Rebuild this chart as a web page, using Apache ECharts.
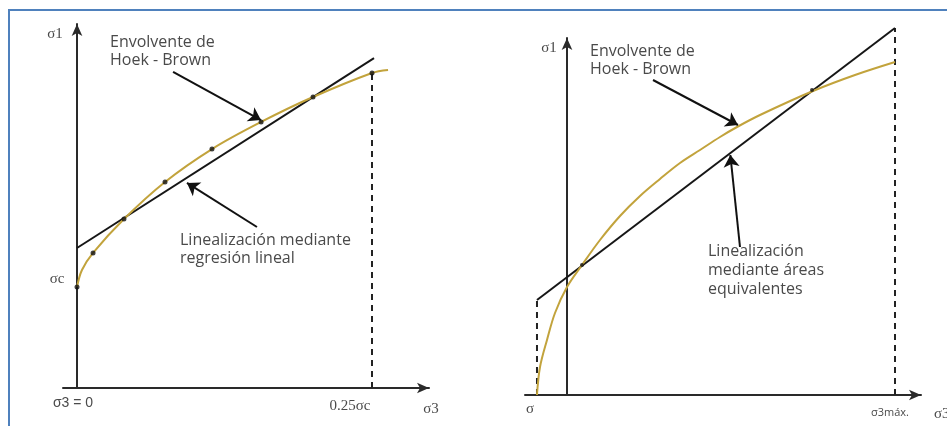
<!DOCTYPE html>
<html><head><meta charset="utf-8">
<script src="https://cdn.jsdelivr.net/npm/echarts@6/dist/echarts.min.js"></script>
<style>html,body{margin:0;padding:0;background:#fff;}#c{width:947px;height:426px;}</style>
</head><body><div id="c"></div>
<script>
// ---------- Left panel: regresión lineal (x = σ3/σc, y = σ1/σc) ----------
const leftCurveX = [0, 0.0042, 0.0136, 0.0398, 0.0746, 0.1144, 0.156, 0.2, 0.25, 0.2636];
const leftCurveY = [1.0, 1.168, 1.337, 1.673, 2.04, 2.366, 2.634, 2.881, 3.119, 3.149];
const leftDotsX = [0, 0.0136, 0.0398, 0.0746, 0.1144, 0.156, 0.2, 0.25];
const leftDotsY = [1.0, 1.337, 1.673, 2.04, 2.366, 2.634, 2.881, 3.119];
const leftLineX = [0, 0.2517];
const leftLineY = [1.386, 3.267];
const leftDashX = [0.25, 0.25];
const leftDashY = [0, 3.119];
const leftArrows = [[[0.0814, 3.129], [0.1559, 2.653]], [[0.1525, 1.594], [0.0932, 2.03]]];
const leftTickLabels = ['σ3 = 0', '0.25σc'];

// ---------- Right panel: áreas equivalentes (x = σ3/σ3máx) ----------
const rightCurveX = [-0.0915, -0.0823, -0.061, -0.0366, 0, 0.0457, 0.1006, 0.1616, 0.2226, 0.2835, 0.3445, 0.4055, 0.4665, 0.5183, 0.5884, 0.75, 0.878, 1.0];
const rightCurveY = [0, 0.28, 0.55, 0.82, 1.08, 1.30, 1.55, 1.79, 1.99, 2.16, 2.32, 2.45, 2.58, 2.68, 2.80, 3.04, 3.20, 3.33];
const rightDotsX = [0.0457, 0.747];
const rightDotsY = [1.30, 3.05];
const rightLineX = [-0.0915, 1.0];
const rightLineY = [0.95, 3.67];
const rightDash1X = [-0.0915, -0.0915];
const rightDash1Y = [0, 0.95];
const rightDash2X = [1.0, 1.0];
const rightDash2Y = [0, 3.67];
const rightArrows = [[[0.2622, 3.15], [0.5213, 2.70]], [[0.5274, 1.48], [0.498, 2.40]]];
const rightTickLabels = ['σ', 'σ3máx.'];

const zip = (xs, ys) => xs.map((x, i) => [x, ys[i]]);

const AX = '#2a2a2a', CURVE = '#c2a33c', TXT = '#4a4a4a';
const axisBase = (extra) => Object.assign({
  type: 'value', splitLine: { show: false }, axisTick: { show: false }, axisLabel: { show: false },
  axisLine: { show: true, onZero: true, symbol: ['none', 'arrow'], symbolSize: [8, 12], lineStyle: { color: AX, width: 2 } }
}, extra);

const lineS = (gi, data, color, width, type, extra) => Object.assign({
  type: 'line', xAxisIndex: gi, yAxisIndex: gi, data: data, showSymbol: false, symbol: 'none',
  clip: false, lineStyle: { color: color, width: width, type: type }, silent: true, z: 3
}, extra || {});

const arrowS = (gi, arr) => ({
  type: 'lines', coordinateSystem: 'cartesian2d', xAxisIndex: gi, yAxisIndex: gi,
  symbol: ['none', 'arrow'], symbolSize: [9, 12], silent: true, z: 5,
  lineStyle: { color: '#111', width: 2, opacity: 1, curveness: 0 },
  data: arr.map(a => ({ coords: a }))
});

const dotS = (gi, data, size) => ({
  type: 'scatter', xAxisIndex: gi, yAxisIndex: gi, data: data, symbolSize: size,
  itemStyle: { color: '#111' }, silent: true, z: 6
});

const T = (text, x, y, font, align, fill) => ({
  type: 'text', x: x, y: y, silent: true,
  style: { text: text, font: font, fill: fill || TXT, textAlign: align || 'left', textVerticalAlign: 'middle' }
});

const SANS = '"Open Sans", "DejaVu Sans", sans-serif';
const SERIF = '"Liberation Serif", "DejaVu Serif", serif';

const option = {
  animation: false,
  backgroundColor: '#ffffff',
  grid: [
    { left: 63, top: 24, width: 366, height: 364 },
    { left: 525, top: 38, width: 396, height: 357 }
  ],
  xAxis: [
    axisBase({ gridIndex: 0, min: -14 / 1180, max: 352 / 1180 }),
    axisBase({ gridIndex: 1, min: -42 / 328, max: 354 / 328 })
  ],
  yAxis: [
    axisBase({ gridIndex: 0, min: 0, max: 364 / 101 }),
    axisBase({ gridIndex: 1, min: 0, max: 3.57 })
  ],
  series: [
    lineS(0, zip(leftDashX, leftDashY), '#222', 2, [6, 5]),
    lineS(0, zip(leftLineX, leftLineY), '#161616', 2, 'solid'),
    lineS(0, zip(leftCurveX, leftCurveY), CURVE, 2, 'solid', { smooth: 0.35, z: 4 }),
    dotS(0, zip(leftDotsX, leftDotsY), 5),
    arrowS(0, leftArrows),
    lineS(1, zip(rightDash1X, rightDash1Y), '#222', 2, [6, 5]),
    lineS(1, zip(rightDash2X, rightDash2Y), '#222', 2, [6, 5]),
    lineS(1, zip(rightLineX, rightLineY), '#161616', 2, 'solid'),
    lineS(1, zip(rightCurveX, rightCurveY), CURVE, 2, 'solid', { smooth: 0.35, z: 4 }),
    dotS(1, zip(rightDotsX, rightDotsY), 4),
    arrowS(1, rightArrows)
  ],
  graphic: [
    { type: 'polyline', silent: true, shape: { points: [[9, 426], [9, 10], [947, 10]] },
      style: { stroke: '#4f81bd', lineWidth: 2, fill: null } },
    // left panel texts
    T('σ1', 55, 34, '15px ' + SERIF, 'center'),
    T('σc', 57, 279, '15px ' + SERIF, 'center'),
    T(leftTickLabels[0], 73, 403, '14px "Liberation Sans", Arial, sans-serif', 'center'),
    T(leftTickLabels[1], 350, 406, '15px ' + SERIF, 'center'),
    T('σ3', 431, 409, '15px ' + SERIF, 'center'),
    T('Envolvente de', 110, 42, '16px ' + SANS),
    T('Hoek - Brown', 110, 60, '16px ' + SANS),
    T('Linealización mediante', 180, 240, '16px ' + SANS),
    T('regresión lineal', 180, 258, '16px ' + SANS),
    // right panel texts
    T('σ1', 549, 48, '15px ' + SERIF, 'center'),
    T(rightTickLabels[0], 530, 409, '15px ' + SERIF, 'center'),
    T(rightTickLabels[1], 890, 413, '11px ' + SANS, 'center'),
    T('σ3', 934, 414, '15px ' + SERIF, 'left'),
    T('Envolvente de', 590, 51, '16px ' + SANS),
    T('Hoek - Brown', 590, 69, '16px ' + SANS),
    T('Linealización', 708, 251, '16px ' + SANS),
    T('mediante áreas', 708, 270, '16px ' + SANS),
    T('equivalentes', 708, 289, '16px ' + SANS)
  ]
};

const chart = echarts.init(document.getElementById('c'), null, { renderer: 'canvas' });
chart.setOption(option);
</script>
</body></html>
